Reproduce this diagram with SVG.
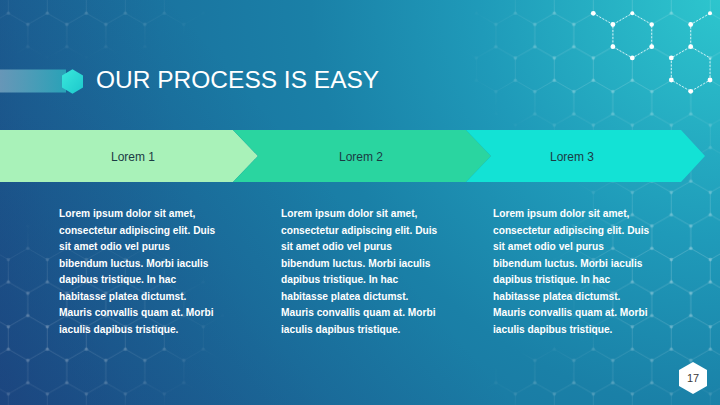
<svg xmlns="http://www.w3.org/2000/svg" width="720" height="405" viewBox="0 0 720 405">
<defs>
<style>
.title{font-family:"Liberation Sans",Arial,sans-serif;font-size:24.5px;fill:#ffffff}
.lbl{font-family:"Liberation Sans",Arial,sans-serif;font-size:12px;fill:#1b3b44;text-anchor:middle}
.body{font-family:"Liberation Sans",Arial,sans-serif;font-size:10.2px;font-weight:bold;fill:#ffffff}
.pg{font-family:"Liberation Sans",Arial,sans-serif;font-size:11px;fill:#3a3a3a;text-anchor:middle}
.hl{fill:none;stroke:#ffffff;stroke-opacity:.24;stroke-width:.8}
.hd{fill:#ffffff;fill-opacity:.3}
.bl{fill:none;stroke:#e8fbff;stroke-opacity:.85;stroke-width:1;stroke-dasharray:2 1.5}
.bd{fill:#ffffff}
</style>
<radialGradient id="bg" gradientUnits="userSpaceOnUse" cx="730" cy="-10" r="840">
<stop offset="0" stop-color="#2ec8cf"/>
<stop offset="0.3" stop-color="#1f9ab9"/>
<stop offset="0.5" stop-color="#1a80a7"/>
<stop offset="0.68" stop-color="#1a74a0"/>
<stop offset="0.85" stop-color="#1b6395"/>
<stop offset="1" stop-color="#1d4d85"/>
</radialGradient>
<linearGradient id="shade" gradientUnits="userSpaceOnUse" x1="0" y1="405" x2="300" y2="150">
<stop offset="0" stop-color="#1a3c78" stop-opacity=".45"/>
<stop offset="1" stop-color="#1a3c78" stop-opacity="0"/>
</linearGradient>
<linearGradient id="bar" x1="0" y1="0" x2="1" y2="0">
<stop offset="0" stop-color="#7aa6c2" stop-opacity=".8"/>
<stop offset="1" stop-color="#2aa9bb" stop-opacity=".9"/>
</linearGradient>
<linearGradient id="hexg" x1="0" y1="0" x2="1" y2="1">
<stop offset="0" stop-color="#3ae8dc"/>
<stop offset="1" stop-color="#1cc8cc"/>
</linearGradient>
<pattern id="hex" patternUnits="userSpaceOnUse" x="27.8" y="2" width="39" height="67.2">
<path class="hl" d="M19.5,0 V11.2 L39,22.4 V44.8 L19.5,56 V67.2 M19.5,11.2 L0,22.4 V44.8 L19.5,56"/>
<circle class="hd" cx="19.5" cy="11.2" r="1.8"/>
<circle class="hd" cx="39" cy="22.4" r="1.8"/>
<circle class="hd" cx="39" cy="44.8" r="1.8"/>
<circle class="hd" cx="19.5" cy="56" r="1.8"/>
<circle class="hd" cx="0" cy="44.8" r="1.8"/>
<circle class="hd" cx="0" cy="22.4" r="1.8"/>
</pattern>
<radialGradient id="mg">
<stop offset="0" stop-color="#fff" stop-opacity="1"/>
<stop offset="0.55" stop-color="#fff" stop-opacity=".7"/>
<stop offset="1" stop-color="#fff" stop-opacity="0"/>
</radialGradient>
<mask id="m" maskUnits="userSpaceOnUse" x="0" y="0" width="720" height="405">
<ellipse cx="640" cy="50" rx="180" ry="115" fill="url(#mg)"/>
<ellipse cx="690" cy="270" rx="140" ry="160" fill="url(#mg)"/>
<ellipse cx="60" cy="330" rx="170" ry="110" fill="url(#mg)" opacity=".75"/>
<ellipse cx="70" cy="15" rx="140" ry="45" fill="url(#mg)" opacity=".45"/>
<ellipse cx="590" cy="385" rx="110" ry="45" fill="url(#mg)" opacity=".6"/>
</mask>
</defs>

<rect width="720" height="405" fill="url(#bg)"/>
<rect width="720" height="405" fill="url(#shade)"/>
<rect width="720" height="405" fill="url(#hex)" mask="url(#m)"/>

<g id="bright-hexes">
<path class="bl" d="M593.3,13.3 L612.9,24.5 V46.7 L632.3,57.9 L651.7,46.7 V24.5 L632.3,13.3 L612.9,24.5"/>
<path class="bl" d="M710,13.3 L690.7,24.5 V46.7 L671.3,57.9 V80 L690.7,91.3 L710,80 V57.9 L690.7,46.7"/>
<circle class="bd" cx="593.3" cy="13.3" r="2.4"/>
<circle class="bd" cx="632.3" cy="13.3" r="2"/>
<circle class="bd" cx="612.9" cy="24.5" r="2.4"/>
<circle class="bd" cx="651.7" cy="24.5" r="2.2"/>
<circle class="bd" cx="612.9" cy="46.7" r="2.4"/>
<circle class="bd" cx="651.7" cy="46.7" r="2.4"/>
<circle class="bd" cx="632.3" cy="57.9" r="2.4"/>
<circle class="bd" cx="710" cy="13.3" r="2"/>
<circle class="bd" cx="690.7" cy="24.5" r="2.4"/>
<circle class="bd" cx="690.7" cy="46.7" r="2.4"/>
<circle class="bd" cx="671.3" cy="57.9" r="2.4"/>
<circle class="bd" cx="671.3" cy="80" r="2.4"/>
<circle class="bd" cx="690.7" cy="91.3" r="2.4"/>
<circle class="bd" cx="710" cy="80" r="2.4"/>
</g>

<g id="title">
<rect x="0" y="69.5" width="66" height="23" fill="url(#bar)"/>
<polygon points="72.5,69.3 83,75.4 83,87.6 72.5,93.7 62,87.6 62,75.4" fill="url(#hexg)"/>
<text class="title" x="96" y="87.5">OUR PROCESS IS EASY</text>
</g>

<g id="connectors"></g>

<g id="step1">
<polygon points="0,130 233,130 258,156 233,182 0,182" fill="#a9f2b9"/>
<text class="lbl" x="133" y="161">Lorem 1</text>
</g>
<g id="step2">
<polygon points="233,130 466,130 491,156 466,182 233,182 258,156" fill="#2ad5a0"/>
<text class="lbl" x="361" y="161">Lorem 2</text>
</g>
<g id="step3">
<polygon points="466,130 681,130 705,156 681,182 466,182 491,156" fill="#13e2d5"/>
<text class="lbl" x="572" y="161">Lorem 3</text>
</g>

<g id="text1" class="body">
<text x="59" y="217">Lorem ipsum dolor sit amet,</text>
<text x="59" y="233.5">consectetur adipiscing elit. Duis</text>
<text x="59" y="250">sit amet odio vel purus</text>
<text x="59" y="266.5">bibendum luctus. Morbi iaculis</text>
<text x="59" y="283">dapibus tristique. In hac</text>
<text x="59" y="299.5">habitasse platea dictumst.</text>
<text x="59" y="316">Mauris convallis quam at. Morbi</text>
<text x="59" y="332.5">iaculis dapibus tristique.</text>
</g>
<g id="text2" class="body">
<text x="281" y="217">Lorem ipsum dolor sit amet,</text>
<text x="281" y="233.5">consectetur adipiscing elit. Duis</text>
<text x="281" y="250">sit amet odio vel purus</text>
<text x="281" y="266.5">bibendum luctus. Morbi iaculis</text>
<text x="281" y="283">dapibus tristique. In hac</text>
<text x="281" y="299.5">habitasse platea dictumst.</text>
<text x="281" y="316">Mauris convallis quam at. Morbi</text>
<text x="281" y="332.5">iaculis dapibus tristique.</text>
</g>
<g id="text3" class="body">
<text x="493" y="217">Lorem ipsum dolor sit amet,</text>
<text x="493" y="233.5">consectetur adipiscing elit. Duis</text>
<text x="493" y="250">sit amet odio vel purus</text>
<text x="493" y="266.5">bibendum luctus. Morbi iaculis</text>
<text x="493" y="283">dapibus tristique. In hac</text>
<text x="493" y="299.5">habitasse platea dictumst.</text>
<text x="493" y="316">Mauris convallis quam at. Morbi</text>
<text x="493" y="332.5">iaculis dapibus tristique.</text>
</g>

<g id="page-number">
<polygon points="693,362 707,370 707,386 693,394 679,386 679,370" fill="#ffffff"/>
<text class="pg" x="693" y="382">17</text>
</g>
</svg>
